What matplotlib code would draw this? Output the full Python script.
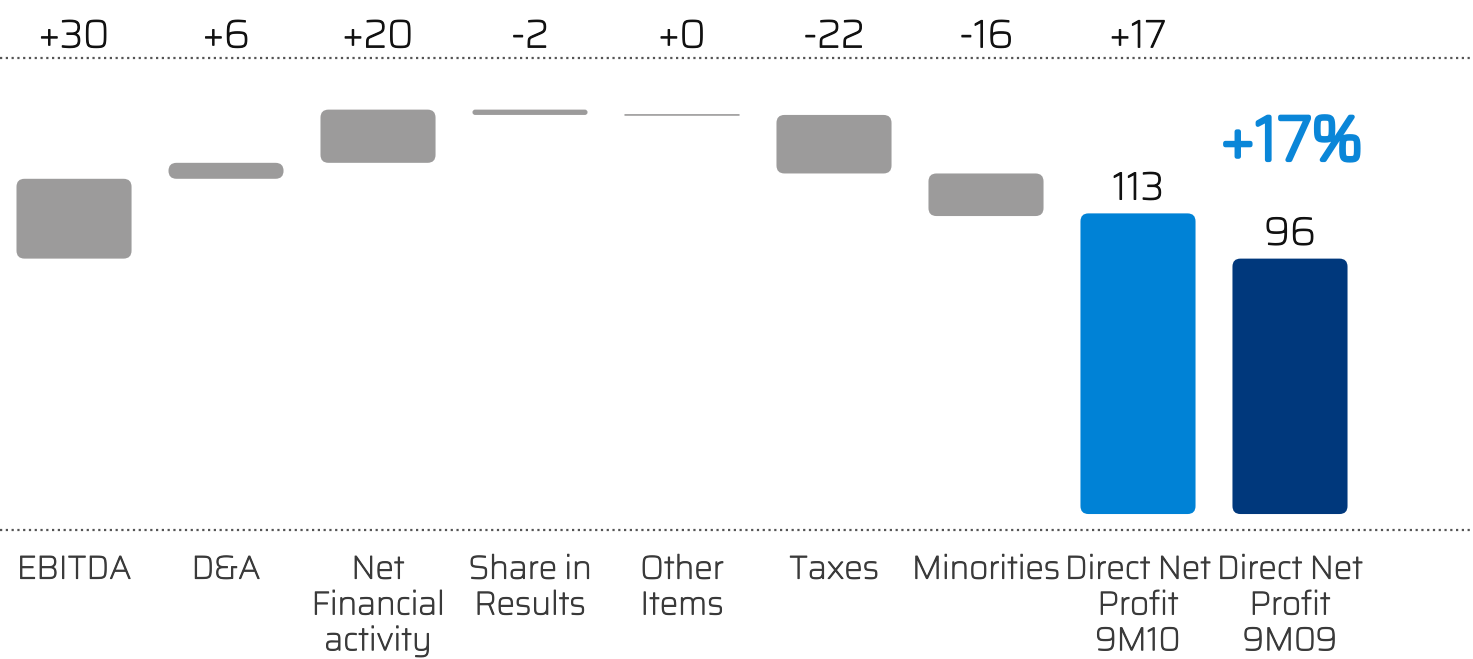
import matplotlib
matplotlib.use("Agg")
import matplotlib.pyplot as plt
from matplotlib.patches import FancyBboxPatch
import matplotlib.transforms as mtransforms
import matplotlib.patheffects as pe

# Bridge of direct net profit, 9M09 -> 9M10
categories = ["EBITDA", "D&A", "Net\nFinancial\nactivity", "Share in\nResults",
              "Other\nItems", "Taxes", "Minorities", "Direct Net\nProfit\n9M10",
              "Direct Net\nProfit\n9M09"]
deltas = [30, 6, 20, -2, 0, -22, -16]
delta_labels = ["+30", "+6", "+20", "-2", "+0", "-22", "-16", "+17"]
profit_9m10 = 113
profit_9m09 = 96
growth_label = "+17%"

GREY = "#9c9b9b"
BLUE = "#0082d6"
NAVY = "#00387c"
FONT = ["Saira", "DejaVu Sans"]


def weight(color, lw=0.9):
    # Saira ships only in a light cut here; a thin outline gives a regular weight
    return [pe.withStroke(linewidth=lw, foreground=color)]


fig = plt.figure(figsize=(14.73, 6.59), dpi=100)
ax = fig.add_axes([0, 129 / 659, 1, 472 / 659])
ax.set_xlim(-0.487, 9.204)
ax.set_ylim(-6, 171.4)
ax.axis("off")

width = 0.757
fig.canvas.draw()


def rounded_bar(x, y0, y1, color, r_px=8):
    lo, hi = min(y0, y1), max(y0, y1)
    p0 = ax.transData.transform((x - width / 2, lo))
    p1 = ax.transData.transform((x + width / 2, hi))
    h_px = p1[1] - p0[1]
    w_px = p1[0] - p0[0]
    px_per_x = w_px / width
    px_per_y = ax.transData.transform((0, 1))[1] - ax.transData.transform((0, 0))[1]
    r = min(r_px, h_px / 2) if h_px > 0 else 0
    patch = FancyBboxPatch((x - width / 2, lo), width, hi - lo,
                           boxstyle=f"round,pad=0,rounding_size={r / px_per_x}",
                           mutation_aspect=px_per_x / px_per_y,
                           facecolor=color, edgecolor=color,
                           linewidth=1.2 if h_px < 2 else 0)
    ax.add_patch(patch)


# floating bars, cumulative from the 9M09 level
level = profit_9m09
for i, d in enumerate(deltas):
    rounded_bar(i, level, level + d, GREY)
    level += d

# totals
n = len(deltas)
rounded_bar(n, 0, profit_9m10, BLUE)
rounded_bar(n + 1, 0, profit_9m09, NAVY)

txt_off = mtransforms.offset_copy(ax.transData, fig=fig, y=6, units="dots")
for xi, val in ((n, profit_9m10), (n + 1, profit_9m09)):
    ax.text(xi, val, str(val), transform=txt_off, ha="center", va="bottom",
            fontsize=28, color="#111111", family=FONT, path_effects=weight("#111111"))

ax.text(n + 1.01, 139.5, growth_label, ha="center", va="center", fontsize=45,
        color="#0a86d8", family=FONT, path_effects=weight("#0a86d8", 3.2))

# dotted reference lines
for yv in (171.4, -6):
    ax.axhline(yv, color="#555555", lw=1.6, ls=(0, (1, 1.6)), clip_on=False)

# delta labels above the top line
trans_top = mtransforms.blended_transform_factory(ax.transData, ax.transAxes)
for i, lab in enumerate(delta_labels):
    ax.text(i, 1.045, lab, transform=trans_top, ha="center", va="center",
            fontsize=28, color="#111111", family=FONT, path_effects=weight("#111111"))

# category labels below the bottom line
for i, cat in enumerate(categories):
    ax.text(i, -0.052, cat, transform=trans_top, ha="center", va="top",
            fontsize=23.5, color="#3a3a3a", family=FONT, linespacing=1.2,
            path_effects=weight("#3a3a3a", 0.8))

fig.savefig("out.png", dpi=100)
